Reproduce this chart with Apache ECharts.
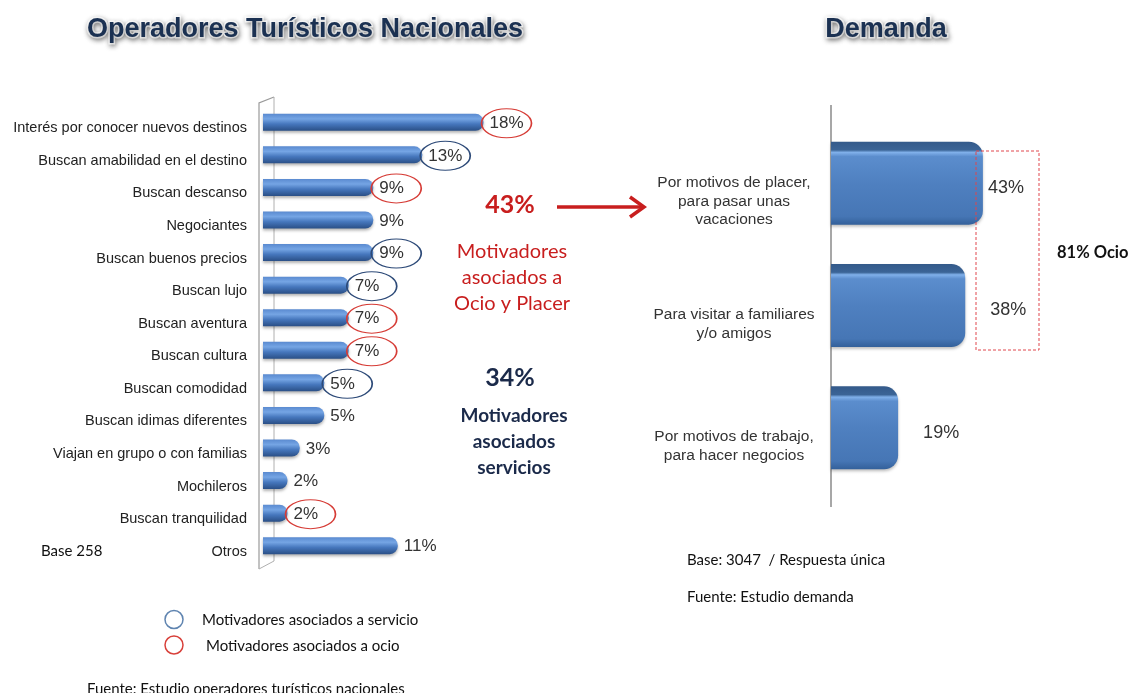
<!DOCTYPE html>
<html>
<head>
<meta charset="utf-8">
<script src="https://cdn.jsdelivr.net/npm/echarts@6/dist/echarts.min.js"></script>
<style>
html,body{margin:0;padding:0;background:#fff;}
#chart{width:1134px;height:693px;}
</style>
</head>
<body>
<div id="chart"></div>
<script>
// ---- data ----
const opCategories = ['Interés por conocer nuevos destinos','Buscan amabilidad en el destino','Buscan descanso','Negociantes','Buscan buenos precios','Buscan lujo','Buscan aventura','Buscan cultura','Buscan comodidad','Buscan idimas diferentes','Viajan en grupo o con familias','Mochileros','Buscan tranquilidad','Otros'];
const opValues = [18,13,9,9,9,7,7,7,5,5,3,2,2,11];
const opType = ['ocio','servicio','ocio','','servicio','servicio','ocio','ocio','servicio','','','','ocio',''];
const demCategories = ['Por motivos de placer,\npara pasar unas\nvacaciones','Para visitar a familiares\ny/o amigos','Por motivos de trabajo,\npara hacer negocios'];
const demValues = [43,38,19];
// ---- style helpers (not data) ----
const demLabelDist = [5,25,25];

const chart = echarts.init(document.getElementById('chart'), null, {renderer:'canvas'});
const LG = echarts.graphic.LinearGradient;
const RED = '#d63c36', NAVY = '#2d4a78';
const arial = '"Liberation Sans", Arial, sans-serif';
const cal = 'Lato, "Open Sans", sans-serif';

const ocioPts = [], servPts = [];
opValues.forEach((v,i)=>{ if(opType[i]==='ocio') ocioPts.push([v,i]); else if(opType[i]==='servicio') servPts.push([v,i]); });

const ellipse = (pts, color) => ({
  type:'scatter', xAxisIndex:0, yAxisIndex:0, data:pts, silent:true, z:5,
  symbol:'circle', symbolSize:[50,29], symbolOffset:[23,1],
  itemStyle:{color:'rgba(0,0,0,0)', borderColor:color, borderWidth:1.3, opacity:1},
  emphasis:{disabled:true}
});

function title(text, x){
  return {type:'text', x:x, y:30, z:10, style:{text:text, font:'bold 27px '+arial, fill:'#1b3152', stroke:'#ffffff', lineWidth:3,
    align:'center', verticalAlign:'middle',
    textShadowColor:'rgba(0,0,0,0.38)', textShadowBlur:5, textShadowOffsetY:2, textShadowOffsetX:1}};
}
function txt(text, x, y, font, fill, align){
  return {type:'text', x:x, y:y, z:10, style:{text:text, font:font, fill:fill, align:align||'left', verticalAlign:'middle', lineHeight:26}};
}

const demData = demValues.map((v,i)=>({value:v, label:{distance:demLabelDist[i]}}));

const option = {
  backgroundColor:'#ffffff',
  animation:false,
  grid:[
    {left:263, top:106, width:367.5, height:456, containLabel:false, outerBoundsMode:'none'},
    {left:831, top:122, width:282.6, height:367, containLabel:false, outerBoundsMode:'none'}
  ],
  xAxis:[
    {type:'value', gridIndex:0, min:0, max:30, show:false},
    {type:'value', gridIndex:1, min:0, max:80, show:false}
  ],
  yAxis:[
    {type:'category', gridIndex:0, inverse:true, data:opCategories,
      axisLine:{show:false}, axisTick:{show:false}, splitLine:{show:false},
      axisLabel:{fontSize:14.5, color:'#222', fontFamily:arial, margin:16, lineHeight:12, formatter:v=>'\n'+v}},
    {type:'category', gridIndex:1, inverse:true, data:demCategories,
      axisLine:{show:false}, axisTick:{show:false}, splitLine:{show:false},
      axisLabel:{fontSize:15.5, color:'#333', fontFamily:arial, margin:97, align:'center', lineHeight:18.5, formatter:v=>'\n\n'+v}}
  ],
  series:[
    {type:'bar', xAxisIndex:0, yAxisIndex:0, data:opValues, barWidth:17, z:3,
      itemStyle:{borderRadius:[0,8,8,0],
        color:new LG(0,0,0,1,[{offset:0,color:'#5a8ad0'},{offset:0.3,color:'#75a5e4'},{offset:0.6,color:'#4677bd'},{offset:1,color:'#2a4f86'}]),
        shadowColor:'rgba(0,0,0,0.3)', shadowBlur:3, shadowOffsetY:2},
      label:{show:true, position:'right', distance:6, offset:[0,1], formatter:'{c}%', fontSize:17, color:'#333', fontFamily:arial},
      emphasis:{disabled:true}},
    ellipse(ocioPts, RED),
    ellipse(servPts, NAVY),
    {type:'bar', xAxisIndex:1, yAxisIndex:1, data:demData, barWidth:83, z:3,
      itemStyle:{borderRadius:[0,14,14,0],
        color:new LG(0,0,0,1,[{offset:0,color:'#345a8a'},{offset:0.1,color:'#3b6496'},{offset:0.13,color:'#80b0ea'},{offset:0.18,color:'#5b8dcd'},{offset:0.5,color:'#4f80c0'},{offset:0.9,color:'#4676b5'},{offset:1,color:'#33609a'}]),
        shadowColor:'rgba(0,0,0,0.25)', shadowBlur:3, shadowOffsetY:2},
      label:{show:true, position:'right', offset:[0,5], formatter:'{c}%', fontSize:18, color:'#333', fontFamily:arial},
      emphasis:{disabled:true}}
  ],
  graphic:[
    title('Operadores Turísticos Nacionales', 305),
    title('Demanda', 886),
    // left axis wall
    {type:'polyline', z:0, shape:{points:[[259,569],[259,103],[274,97]]}, style:{stroke:'#9a9a9a', lineWidth:1.2, fill:null}},
    {type:'polyline', z:0, shape:{points:[[274,97],[274,561],[259,569]]}, style:{stroke:'#b0b0b0', lineWidth:1, fill:null}},
    // right axis
    {type:'line', z:0, shape:{x1:831, y1:105, x2:831, y2:507}, style:{stroke:'#8a8a8a', lineWidth:1.5}},
    // dashed box
    {type:'rect', z:20, shape:{x:976, y:151, width:63, height:199}, style:{fill:null, stroke:'#e0474c', lineWidth:1, lineDash:[3,2]}},
    txt('81% Ocio', 1057, 253, 'bold 16.5px '+cal, '#111'),
    // middle annotations
    txt('43%', 510, 205, 'bold 25px '+cal, '#c81e1e', 'center'),
    {type:'polyline', z:10, shape:{points:[[557,207],[643,207]]}, style:{stroke:'#c81e1e', lineWidth:3.5, fill:null}},
    {type:'polyline', z:10, shape:{points:[[630,197],[644,207],[630,217]]}, style:{stroke:'#c81e1e', lineWidth:3.5, fill:null}},
    txt('Motivadores\nasociados a\nOcio y Placer', 512, 278, '20px '+cal, '#c81e1e', 'center'),
    txt('34%', 510, 378, 'bold 25px '+cal, '#1b2a4a', 'center'),
    txt('Motivadores\nasociados\nservicios', 514, 442, 'bold 19px '+cal, '#1b2a4a', 'center'),
    // notes
    txt('Base 258', 41, 551, '15px '+cal, '#111'),
    txt('Base: 3047  / Respuesta única', 687, 560, '15px '+cal, '#111'),
    txt('Fuente: Estudio demanda', 687, 597, '15px '+cal, '#111'),
    // legend
    {type:'circle', z:10, shape:{cx:174, cy:619.5, r:9}, style:{fill:null, stroke:'#5f84b0', lineWidth:1.5}},
    {type:'circle', z:10, shape:{cx:174, cy:645, r:9}, style:{fill:null, stroke:'#d8403a', lineWidth:1.5}},
    txt('Motivadores asociados a servicio', 202, 620, '15px '+cal, '#111'),
    txt('Motivadores asociados a ocio', 206, 646, '15px '+cal, '#111'),
    txt('Fuente: Estudio operadores turísticos nacionales', 87, 689, '15px '+cal, '#111')
  ]
};
chart.setOption(option);
</script>
</body>
</html>
